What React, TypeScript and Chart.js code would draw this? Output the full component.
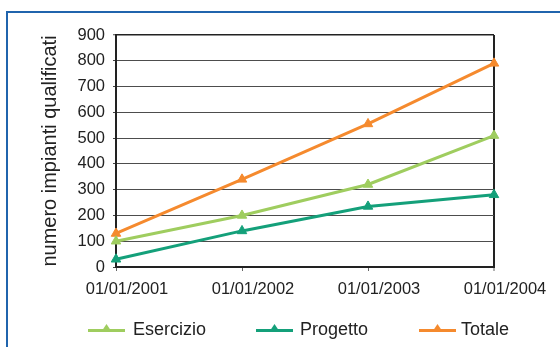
import React, { useEffect, useRef } from "react";
import { Chart, registerables } from "chart.js";

Chart.register(...registerables);

const categories = ["01/01/2001", "01/01/2002", "01/01/2003", "01/01/2004"];
const esercizio = [100, 200, 320, 510];
const progetto = [30, 140, 235, 280];
const totale = [130, 340, 555, 790];
const seriesNames = ["Esercizio", "Progetto", "Totale"];
const seriesColors = ["#9fcd5f", "#14a07a", "#f58a2e"];
const yMin = 0;
const yMax = 900;
const yStep = 100;
const yTitle = "numero impianti qualificati";

const FONT = "Arial, 'Liberation Sans', sans-serif";

export default function App() {
  const canvasRef = useRef<HTMLCanvasElement | null>(null);

  useEffect(() => {
    const canvas = canvasRef.current;
    if (!canvas) return;
    const values = [esercizio, progetto, totale];
    const chart = new Chart(canvas, {
      type: "line",
      data: {
        labels: categories,
        datasets: seriesNames.map((name, i) => ({
          label: name,
          data: values[i],
          borderColor: seriesColors[i],
          backgroundColor: seriesColors[i],
          borderWidth: 3,
          pointStyle: "triangle",
          pointRadius: 5.5,
          pointBorderWidth: 1,
          pointBackgroundColor: seriesColors[i],
          pointBorderColor: seriesColors[i],
          tension: 0,
          clip: false as any,
        })),
      },
      options: {
        animation: false,
        responsive: false,
        maintainAspectRatio: false,
        layout: { padding: { left: 40, top: 35, right: 66, bottom: 50 } },
        plugins: {
          legend: { display: false },
          tooltip: { enabled: false },
        },
        scales: {
          x: {
            type: "category",
            offset: false,
            afterFit: (scale: any) => {
              scale.height = 30;
            },
            grid: {
              drawOnChartArea: true,
              color: (ctx: any) => (ctx.index === categories.length - 1 ? "#222" : "rgba(0,0,0,0)"),
              lineWidth: (ctx: any) => (ctx.index === categories.length - 1 ? 2 : 1),
              tickColor: "#666",
              tickWidth: 1,
              tickLength: 4,
            },
            border: { color: "#222", width: 2 },
            ticks: {
              color: "#222",
              padding: 9,
              labelOffset: 11,
              maxRotation: 0,
              autoSkip: false,
              font: { family: FONT, size: 16.5 },
            },
          },
          y: {
            min: yMin,
            max: yMax,
            afterFit: (scale: any) => {
              scale.width = 76;
            },
            grid: {
              color: (ctx: any) => (ctx.tick && ctx.tick.value === yMax ? "#222" : "#4d4d4d"),
              lineWidth: (ctx: any) => (ctx.tick && ctx.tick.value === yMax ? 1.5 : 1),
              tickColor: "#444",
              tickWidth: 1,
              tickLength: 3,
            },
            border: { color: "#222", width: 2 },
            ticks: {
              stepSize: yStep,
              color: "#222",
              padding: 8,
              font: { family: FONT, size: 16.5 },
            },
            title: {
              display: true,
              text: yTitle,
              color: "#222",
              padding: 0,
              font: { family: FONT, size: 20, lineHeight: 1 },
            },
          },
        },
      },
    });
    return () => chart.destroy();
  }, []);

  const legendItems = [
    { icon: 88, text: 133 },
    { icon: 256, text: 300 },
    { icon: 419, text: 461 },
  ];

  return (
    <div
      style={{
        position: "fixed",
        left: 0,
        top: 0,
        width: 560,
        height: 347,
        background: "#fff",
        overflow: "hidden",
      }}
    >
      <div
        style={{
          position: "absolute",
          left: 6,
          top: 11,
          width: 700,
          height: 500,
          borderLeft: "2px solid #2064ad",
          borderTop: "2px solid #2064ad",
        }}
      />
      <canvas
        ref={canvasRef}
        width={560}
        height={347}
        style={{ position: "absolute", left: 0, top: 0, width: 560, height: 347 }}
      />
      {seriesNames.map((name, i) => (
        <React.Fragment key={name}>
          <svg
            width={38}
            height={14}
            style={{ position: "absolute", left: legendItems[i].icon, top: 321 }}
          >
            <line x1={0} y1={9.5} x2={37} y2={9.5} stroke={seriesColors[i]} strokeWidth={3} />
            <polygon points="18.5,3 13.5,10.5 23.5,10.5" fill={seriesColors[i]} />
          </svg>
          <span
            style={{
              position: "absolute",
              left: legendItems[i].text,
              top: 320,
              font: `18px ${FONT}`,
              lineHeight: "18px",
              color: "#222",
              whiteSpace: "nowrap",
            }}
          >
            {name}
          </span>
        </React.Fragment>
      ))}
    </div>
  );
}
